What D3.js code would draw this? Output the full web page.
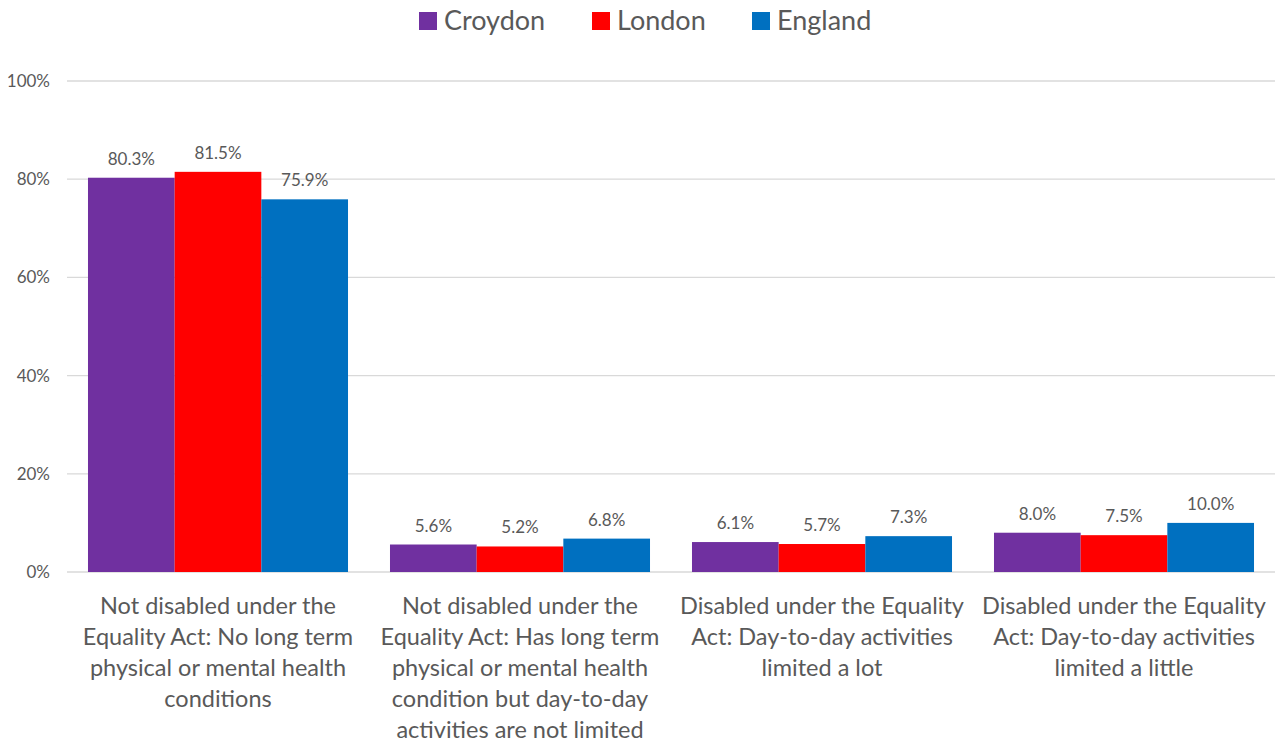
<!DOCTYPE html>
<html>
<head>
<meta charset="utf-8">
<script src="https://cdn.jsdelivr.net/npm/d3@7"></script>
<style>
  html, body { margin: 0; padding: 0; background: #fff; }
  svg { display: block; font-family: Lato, "Open Sans", sans-serif; }
</style>
</head>
<body>
<svg id="chart" width="1282" height="746"></svg>
<script>
// Disability status under the Equality Act: Croydon vs London vs England
const categories = [
  ["Not disabled under the", "Equality Act: No long term", "physical or mental health", "conditions"],
  ["Not disabled under the", "Equality Act: Has long term", "physical or mental health", "condition but day-to-day", "activities are not limited"],
  ["Disabled under the Equality", "Act: Day-to-day activities", "limited a lot"],
  ["Disabled under the Equality", "Act: Day-to-day activities", "limited a little"]
];
const seriesNames = ["Croydon", "London", "England"];
const croydon = [80.3, 5.6, 6.1, 8.0];
const london  = [81.5, 5.2, 5.7, 7.5];
const england = [75.9, 6.8, 7.3, 10.0];
const yTicks = [0, 20, 40, 60, 80, 100];
const colors = ["#7030A0", "#FF0000", "#0070C0"];

const series = [croydon, london, england];
const textColor = "#595959";

const svg = d3.select("#chart");
const margin = { left: 67, right: 7, top: 81, bottom: 174 };
const W = 1282, H = 746;

const x0 = d3.scaleBand()
  .domain(d3.range(categories.length))
  .range([margin.left, W - margin.right])
  .paddingInner(0.139)
  .paddingOuter(0.0695);
const x1 = d3.scaleBand()
  .domain(d3.range(seriesNames.length))
  .range([0, x0.bandwidth()]);
const y = d3.scaleLinear().domain([0, 100]).range([H - margin.bottom, margin.top]);

// gridlines
svg.append("g")
  .selectAll("line")
  .data(yTicks)
  .join("line")
  .attr("x1", margin.left)
  .attr("x2", W - margin.right)
  .attr("y1", d => y(d))
  .attr("y2", d => y(d))
  .attr("stroke", "#d9d9d9")
  .attr("stroke-width", 1.3);

// y axis labels
const yAxis = svg.append("g")
  .attr("transform", `translate(${margin.left - 17},0)`)
  .call(d3.axisLeft(y).tickValues(yTicks).tickFormat(d => d + "%").tickSize(0).tickPadding(0));
yAxis.select(".domain").remove();
yAxis.selectAll("text")
  .attr("fill", textColor)
  .style("font-family", "Lato, 'Open Sans', sans-serif")
  .style("font-size", "17px");

// bars
const groups = svg.append("g")
  .selectAll("g")
  .data(categories.map((c, i) => i))
  .join("g")
  .attr("transform", i => `translate(${x0(i)},0)`);

groups.selectAll("rect")
  .data(i => series.map((s, k) => ({ k, v: s[i] })))
  .join("rect")
  .attr("x", d => x1(d.k))
  .attr("width", x1.bandwidth())
  .attr("y", d => y(d.v))
  .attr("height", d => y(0) - y(d.v))
  .attr("fill", d => colors[d.k]);

// value labels
groups.selectAll("text.val")
  .data(i => series.map((s, k) => ({ k, v: s[i] })))
  .join("text")
  .attr("class", "val")
  .attr("x", d => x1(d.k) + x1.bandwidth() / 2)
  .attr("y", d => y(d.v) - 13)
  .attr("text-anchor", "middle")
  .attr("fill", textColor)
  .style("font-size", "17px")
  .text(d => d.v.toFixed(1) + "%");

// category labels
const catG = svg.append("g");
categories.forEach((lines, i) => {
  const cx = x0(i) + x0.bandwidth() / 2;
  const t = catG.append("text")
    .attr("x", cx)
    .attr("y", 614)
    .attr("text-anchor", "middle")
    .attr("fill", textColor)
    .style("font-size", "23.5px");
  lines.forEach((ln, j) => {
    t.append("tspan")
      .attr("x", cx)
      .attr("dy", j === 0 ? 0 : 31)
      .text(ln);
  });
});

// legend
const legendItems = [
  { name: seriesNames[0], x: 419 },
  { name: seriesNames[1], x: 592 },
  { name: seriesNames[2], x: 752 }
];
const lg = svg.append("g");
legendItems.forEach((it, k) => {
  lg.append("rect")
    .attr("x", it.x).attr("y", 12)
    .attr("width", 18).attr("height", 18)
    .attr("fill", colors[k]);
  lg.append("text")
    .attr("x", it.x + 25).attr("y", 30)
    .attr("fill", textColor)
    .style("font-size", "27px")
    .text(it.name);
});
</script>
</body>
</html>
